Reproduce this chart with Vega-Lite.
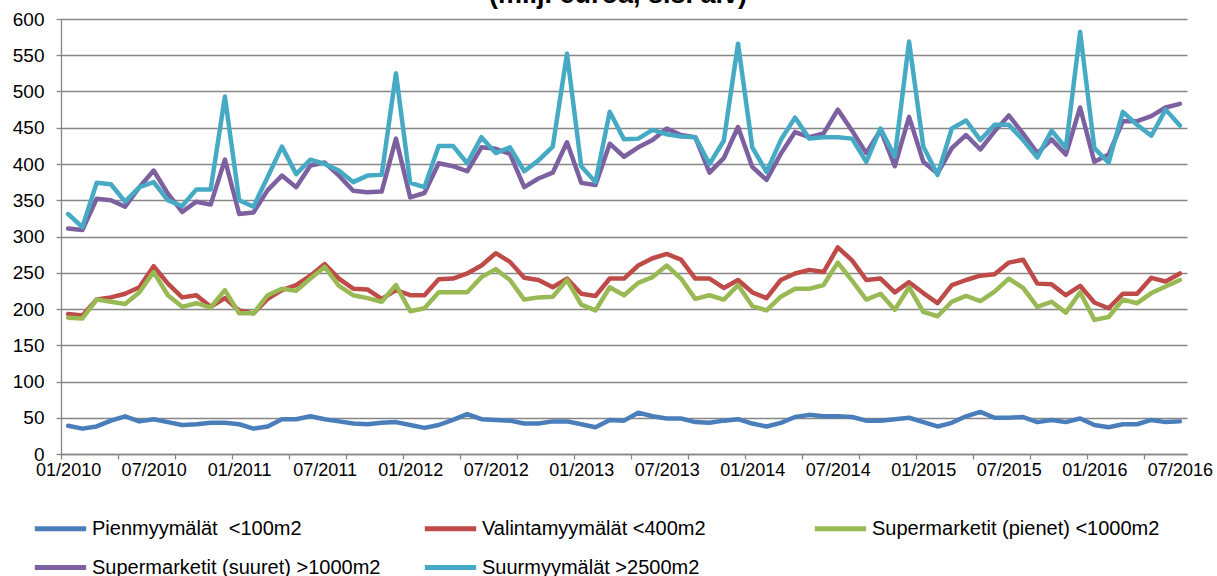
{
  "$schema": "https://vega.github.io/schema/vega-lite/v6.json",
  "autosize": "none",
  "width": 1126,
  "height": 435,
  "padding": {"left": 61, "top": 19, "right": 30, "bottom": 122},
  "background": "white",
  "title": {
    "text": "(milj. euroa, sis. alv)",
    "font": "Liberation Sans",
    "fontSize": 27,
    "fontWeight": "bold",
    "color": "#000000",
    "anchor": "middle",
    "frame": "group",
    "baseline": "alphabetic",
    "offset": -1,
    "dy": 19,
    "dx": -6
  },
  "data": {
    "values": [
      {"m":"01/2010","a":39,"b":193,"c":188,"d":311,"e":331},
      {"m":"02/2010","a":35,"b":191,"c":187,"d":309,"e":313},
      {"m":"03/2010","a":38,"b":213,"c":213,"d":352,"e":374},
      {"m":"04/2010","a":46,"b":216,"c":210,"d":350,"e":372},
      {"m":"05/2010","a":52,"b":221,"c":207,"d":341,"e":348},
      {"m":"06/2010","a":45,"b":230,"c":223,"d":368,"e":368},
      {"m":"07/2010","a":48,"b":259,"c":251,"d":391,"e":375},
      {"m":"08/2010","a":44,"b":235,"c":219,"d":359,"e":350},
      {"m":"09/2010","a":40,"b":216,"c":203,"d":334,"e":342},
      {"m":"10/2010","a":41,"b":219,"c":208,"d":348,"e":365},
      {"m":"11/2010","a":43,"b":203,"c":202,"d":344,"e":365},
      {"m":"12/2010","a":43,"b":215,"c":226,"d":406,"e":493},
      {"m":"01/2011","a":41,"b":198,"c":194,"d":331,"e":350},
      {"m":"02/2011","a":35,"b":194,"c":194,"d":333,"e":341},
      {"m":"03/2011","a":38,"b":214,"c":219,"d":364,"e":382},
      {"m":"04/2011","a":48,"b":226,"c":228,"d":384,"e":424},
      {"m":"05/2011","a":48,"b":233,"c":225,"d":368,"e":386},
      {"m":"06/2011","a":52,"b":246,"c":242,"d":398,"e":406},
      {"m":"07/2011","a":48,"b":262,"c":258,"d":402,"e":400},
      {"m":"08/2011","a":45,"b":242,"c":232,"d":384,"e":391},
      {"m":"09/2011","a":42,"b":228,"c":219,"d":363,"e":375},
      {"m":"10/2011","a":41,"b":227,"c":215,"d":361,"e":384},
      {"m":"11/2011","a":43,"b":214,"c":210,"d":362,"e":385},
      {"m":"12/2011","a":44,"b":226,"c":233,"d":435,"e":525},
      {"m":"01/2012","a":40,"b":219,"c":197,"d":354,"e":374},
      {"m":"02/2012","a":36,"b":219,"c":201,"d":360,"e":368},
      {"m":"03/2012","a":40,"b":241,"c":223,"d":401,"e":425},
      {"m":"04/2012","a":47,"b":242,"c":223,"d":397,"e":425},
      {"m":"05/2012","a":55,"b":249,"c":223,"d":390,"e":401},
      {"m":"06/2012","a":48,"b":260,"c":244,"d":423,"e":437},
      {"m":"07/2012","a":47,"b":277,"c":255,"d":421,"e":415},
      {"m":"08/2012","a":46,"b":265,"c":240,"d":414,"e":423},
      {"m":"09/2012","a":42,"b":243,"c":213,"d":368,"e":390},
      {"m":"10/2012","a":42,"b":240,"c":216,"d":380,"e":405},
      {"m":"11/2012","a":45,"b":230,"c":217,"d":388,"e":424},
      {"m":"12/2012","a":45,"b":242,"c":240,"d":430,"e":552},
      {"m":"01/2013","a":41,"b":221,"c":206,"d":374,"e":397},
      {"m":"02/2013","a":37,"b":218,"c":198,"d":371,"e":375},
      {"m":"03/2013","a":47,"b":242,"c":230,"d":428,"e":472},
      {"m":"04/2013","a":46,"b":242,"c":219,"d":410,"e":434},
      {"m":"05/2013","a":57,"b":260,"c":236,"d":423,"e":435},
      {"m":"06/2013","a":52,"b":270,"c":244,"d":433,"e":447},
      {"m":"07/2013","a":49,"b":276,"c":260,"d":449,"e":441},
      {"m":"08/2013","a":49,"b":268,"c":242,"d":440,"e":438},
      {"m":"09/2013","a":44,"b":242,"c":214,"d":437,"e":437},
      {"m":"10/2013","a":43,"b":242,"c":219,"d":388,"e":400},
      {"m":"11/2013","a":46,"b":229,"c":213,"d":408,"e":432},
      {"m":"12/2013","a":48,"b":240,"c":233,"d":451,"e":566},
      {"m":"01/2014","a":42,"b":223,"c":204,"d":396,"e":423},
      {"m":"02/2014","a":38,"b":215,"c":198,"d":378,"e":389},
      {"m":"03/2014","a":43,"b":240,"c":217,"d":414,"e":433},
      {"m":"04/2014","a":51,"b":249,"c":228,"d":444,"e":464},
      {"m":"05/2014","a":54,"b":254,"c":228,"d":437,"e":435},
      {"m":"06/2014","a":52,"b":251,"c":233,"d":442,"e":437},
      {"m":"07/2014","a":52,"b":285,"c":264,"d":475,"e":437},
      {"m":"08/2014","a":51,"b":267,"c":239,"d":446,"e":435},
      {"m":"09/2014","a":46,"b":240,"c":213,"d":415,"e":403},
      {"m":"10/2014","a":46,"b":242,"c":221,"d":447,"e":449},
      {"m":"11/2014","a":48,"b":223,"c":199,"d":397,"e":410},
      {"m":"12/2014","a":50,"b":237,"c":230,"d":465,"e":569},
      {"m":"01/2015","a":44,"b":222,"c":196,"d":403,"e":424},
      {"m":"02/2015","a":38,"b":208,"c":190,"d":387,"e":385},
      {"m":"03/2015","a":43,"b":233,"c":210,"d":422,"e":449},
      {"m":"04/2015","a":52,"b":240,"c":218,"d":440,"e":460},
      {"m":"05/2015","a":58,"b":246,"c":211,"d":420,"e":433},
      {"m":"06/2015","a":50,"b":248,"c":224,"d":445,"e":454},
      {"m":"07/2015","a":50,"b":264,"c":242,"d":467,"e":454},
      {"m":"08/2015","a":51,"b":268,"c":229,"d":442,"e":433},
      {"m":"09/2015","a":44,"b":235,"c":203,"d":415,"e":409},
      {"m":"10/2015","a":47,"b":234,"c":210,"d":434,"e":446},
      {"m":"11/2015","a":44,"b":219,"c":195,"d":413,"e":422},
      {"m":"12/2015","a":49,"b":232,"c":223,"d":478,"e":582},
      {"m":"01/2016","a":40,"b":209,"c":185,"d":403,"e":422},
      {"m":"02/2016","a":37,"b":201,"c":189,"d":413,"e":402},
      {"m":"03/2016","a":41,"b":221,"c":213,"d":459,"e":472},
      {"m":"04/2016","a":41,"b":221,"c":208,"d":459,"e":454},
      {"m":"05/2016","a":47,"b":243,"c":222,"d":466,"e":439},
      {"m":"06/2016","a":44,"b":238,"c":231,"d":478,"e":475},
      {"m":"07/2016","a":45,"b":249,"c":240,"d":483,"e":453}
    ]
  },
  "transform": [
    {"fold": ["a", "b", "c", "d", "e"], "as": ["k", "v"]}
  ],
  "mark": {"type": "line", "strokeWidth": 4.5, "strokeJoin": "round", "strokeCap": "round"},
  "encoding": {
    "x": {
      "field": "m",
      "type": "ordinal",
      "sort": null,
      "scale": {"type": "point", "padding": 0.5},
      "axis": {
        "title": null,
        "grid": false,
        "values": ["01/2010","05/2010","07/2010","09/2010","01/2011","05/2011","07/2011","09/2011","01/2012","05/2012","07/2012","09/2012","01/2013","05/2013","07/2013","09/2013","01/2014","05/2014","07/2014","09/2014","01/2015","05/2015","07/2015","09/2015","01/2016","05/2016","07/2016"],
        "labelExpr": "(slice(datum.value,0,2)==='01'||slice(datum.value,0,2)==='07') ? datum.value : ''",
        "tickOpacity": {"condition": {"test": "slice(datum.value,0,2)!=='07'", "value": 1}, "value": 0},
        "tickOffset": -7.127,
        "labelOffset": 7.127,
        "labelAngle": 0,
        "labelOverlap": false,
        "labelBound": false,
        "labelFlush": false,
        "labelFont": "Liberation Sans",
        "labelFontSize": 18,
        "labelColor": "#000000",
        "labelPadding": 2,
        "tickSize": 5,
        "tickColor": "#868686",
        "tickWidth": 1.3,
        "domainColor": "#868686",
        "domainWidth": 1.3
      }
    },
    "y": {
      "field": "v",
      "type": "quantitative",
      "scale": {"domain": [0, 600], "nice": false, "zero": true},
      "axis": {
        "title": null,
        "values": [0,50,100,150,200,250,300,350,400,450,500,550,600],
        "grid": true,
        "gridColor": "#868686",
        "gridWidth": 1.3,
        "labelFont": "Liberation Sans",
        "labelFontSize": 19,
        "labelColor": "#000000",
        "labelPadding": 12,
        "tickSize": 5,
        "tickColor": "#868686",
        "tickWidth": 1.3,
        "domainColor": "#868686",
        "domainWidth": 1.3
      }
    },
    "color": {
      "field": "k",
      "type": "nominal",
      "scale": {
        "domain": ["a", "b", "c", "d", "e"],
        "range": ["#4A7EBB", "#BE4B48", "#98B954", "#7D60A0", "#46AAC5"]
      },
      "legend": {
        "title": null,
        "orient": "none",
        "legendX": -29,
        "legendY": 481,
        "direction": "horizontal",
        "columns": 3,
        "gridAlign": "all",
        "columnPadding": 33,
        "rowPadding": -19,
        "padding": 0,
        "symbolType": "stroke",
        "symbolSize": 2640,
        "symbolStrokeWidth": 5,
        "labelFont": "Liberation Sans",
        "labelFontSize": 20,
        "labelColor": "#000000",
        "labelOffset": 3,
        "labelLimit": 500,
        "labelExpr": "{'a':'Pienmyymälät\u00a0 <100m2','b':'Valintamyymälät <400m2','c':'Supermarketit (pienet) <1000m2','d':'Supermarketit (suuret) >1000m2','e':'Suurmyymälät >2500m2'}[datum.value]"
      }
    }
  },
  "config": {
    "view": {"stroke": null},
    "axis": {"gridCap": "butt"}
  }
}
